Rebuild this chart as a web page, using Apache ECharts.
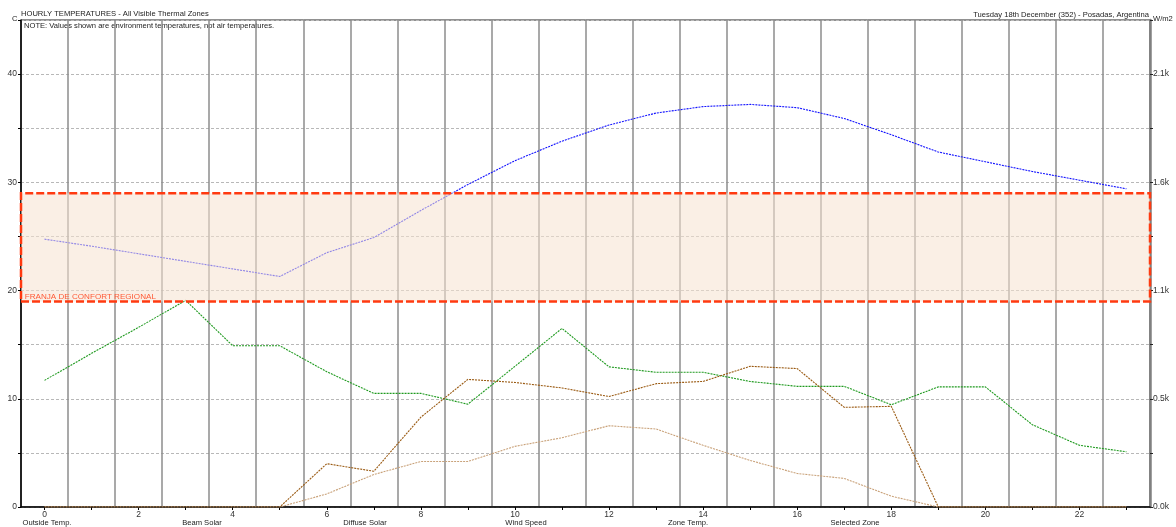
<!DOCTYPE html>
<html>
<head>
<meta charset="utf-8">
<script src="https://cdn.jsdelivr.net/npm/echarts@6/dist/echarts.min.js"></script>
<style>html,body{margin:0;padding:0;background:#fff}#c{width:1176px;height:527px}</style>
</head>
<body>
<div id="c"></div>
<script>
// ---- data ----
var hours = ['0','1','2','3','4','5','6','7','8','9','10','11','12','13','14','15','16','17','18','19','20','21','22','23'];
var outsideTemp = [24.75,24.1,23.4,22.7,22.0,21.3,23.5,24.9,27.4,29.8,32.0,33.8,35.3,36.4,37.0,37.2,36.9,35.9,34.4,32.8,31.9,31.0,30.2,29.4];
var windSpeed = [11.7,14.2,16.6,19.1,14.9,14.9,12.5,10.5,10.5,9.5,13.0,16.5,12.95,12.45,12.45,11.6,11.15,11.15,9.45,11.1,11.1,7.6,5.7,5.1];
var beamSolar = [0,0,0,0,0,0,212,175,440,625,610,583,541,604,615,689,678,488,493,0,0,0,0,0];
var diffuseSolar = [0,0,0,0,0,0,64,159,223,223,297,339,398,382,302,228,164,140,53,0,0,0,0,0];
var legendNames = ['Outside Temp.','Beam Solar','Diffuse Solar','Wind Speed','Zone Temp.','Selected Zone'];
var comfortBand = [19, 29];
var comfortLabel = 'FRANJA DE CONFORT REGIONAL';
var titleText = 'HOURLY TEMPERATURES - All Visible Thermal Zones';
var noteText = 'NOTE: Values shown are environment temperatures, not air temperatures.';
var dateText = 'Tuesday 18th December (352) - Posadas, Argentina';
var leftAxisName = 'C';
var rightAxisName = 'W/m2';

// ---- chart ----
var FONT = '"Liberation Sans", Arial, sans-serif';
var chart = echarts.init(document.getElementById('c'), null, {renderer: 'canvas'});
var legendX = [47, 202, 365, 526, 688, 855];
var graphics = [
  {type:'text', left: 12, top: 15, style:{text: leftAxisName, font: '7.6px ' + FONT, fill:'#222'}},
  {type:'text', left: 21, top: 10, style:{text: titleText, font: '7.6px ' + FONT, fill:'#222'}},
  {type:'text', left: 24, top: 22, style:{text: noteText, font: '7.6px ' + FONT, fill:'#222'}},
  {type:'text', right: 27, top: 11, style:{text: dateText, font: '7.6px ' + FONT, fill:'#222'}},
  {type:'text', left: 1153, top: 15, style:{text: rightAxisName, font: '7.6px ' + FONT, fill:'#222'}}
];
legendNames.forEach(function(n, i){
  graphics.push({type:'text', x: legendX[i], y: 523, style:{text: n, font: '7.6px ' + FONT, fill:'#222', textAlign:'center', textVerticalAlign:'middle'}});
});

var lineBase = function(name, data, color, yIdx){
  return {
    name: name, type: 'line', data: data, yAxisIndex: yIdx, symbol: 'none', z: 2,
    lineStyle: {color: color, width: 1.1, type: [2,1]}, itemStyle:{color: color}, animation: false
  };
};

chart.setOption({
  animation: false,
  textStyle: {fontFamily: FONT},
  grid: {left: 21, right: 26, top: 20, bottom: 20, show: true, borderColor: '#222', borderWidth: 1, backgroundColor: 'transparent'},
  graphic: graphics,
  xAxis: {
    type: 'category', data: hours, boundaryGap: true,
    axisLine: {lineStyle: {color: '#000', width: 1.5}},
    axisTick: {show: true, alignWithLabel: true, interval: 0, length: 3, lineStyle: {color: '#000'}},
    axisLabel: {interval: 1, fontSize: 8.5, color: '#333', margin: 3, fontFamily: FONT},
    splitLine: {show: true, interval: 0, lineStyle: {color: '#8c8c8c', width: 1.5}}
  },
  yAxis: [
    {
      type: 'value', min: 0, max: 45, interval: 5, position: 'left',
      axisLine: {show: true, lineStyle: {color: '#000', width: 1.5}},
      axisTick: {show: true, length: 3, lineStyle: {color: '#000'}},
      axisLabel: {fontSize: 8.5, color: '#333', margin: 4, fontFamily: FONT,
        formatter: function(v){ return (v % 10 === 0) ? String(v) : ''; }},
      splitLine: {show: true, lineStyle: {color: '#b8b8b8', type: [3,2], width: 1}}
    },
    {
      type: 'value', min: 0, max: 2385, interval: 265, position: 'right',
      axisLine: {show: true, lineStyle: {color: '#808080', width: 2.5}},
      axisTick: {show: true, length: 3, lineStyle: {color: '#222'}},
      axisLabel: {fontSize: 8.5, color: '#333', margin: 3, fontFamily: FONT,
        formatter: function(v){ return (Math.round(v/265) % 2 === 0) ? (v/1000).toFixed(1) + 'k' : ''; }},
      splitLine: {show: false}
    }
  ],
  series: [
    lineBase(legendNames[0], outsideTemp, '#1414ff', 0),
    lineBase(legendNames[3], windSpeed, '#1f9a1f', 0),
    lineBase(legendNames[1], beamSolar, '#9a5a12', 1),
    lineBase(legendNames[2], diffuseSolar, '#c9a27a', 1),
    {
      name: 'band', type: 'line', data: [], yAxisIndex: 0, z: 10, symbol: 'none',
      markArea: {
        silent: true, z: 5,
        itemStyle: {color: 'rgba(246,226,208,0.56)', borderColor: '#ff3a10', borderWidth: 2.5, borderType: [8,3]},
        label: {show: true, position: 'insideBottomLeft', distance: 2, padding: [0, 0, 0, 3], color: '#ff5a36', fontSize: 8.1, fontFamily: FONT},
        data: [[{yAxis: comfortBand[0], name: comfortLabel}, {yAxis: comfortBand[1]}]]
      }
    }
  ]
});
</script>
</body>
</html>
